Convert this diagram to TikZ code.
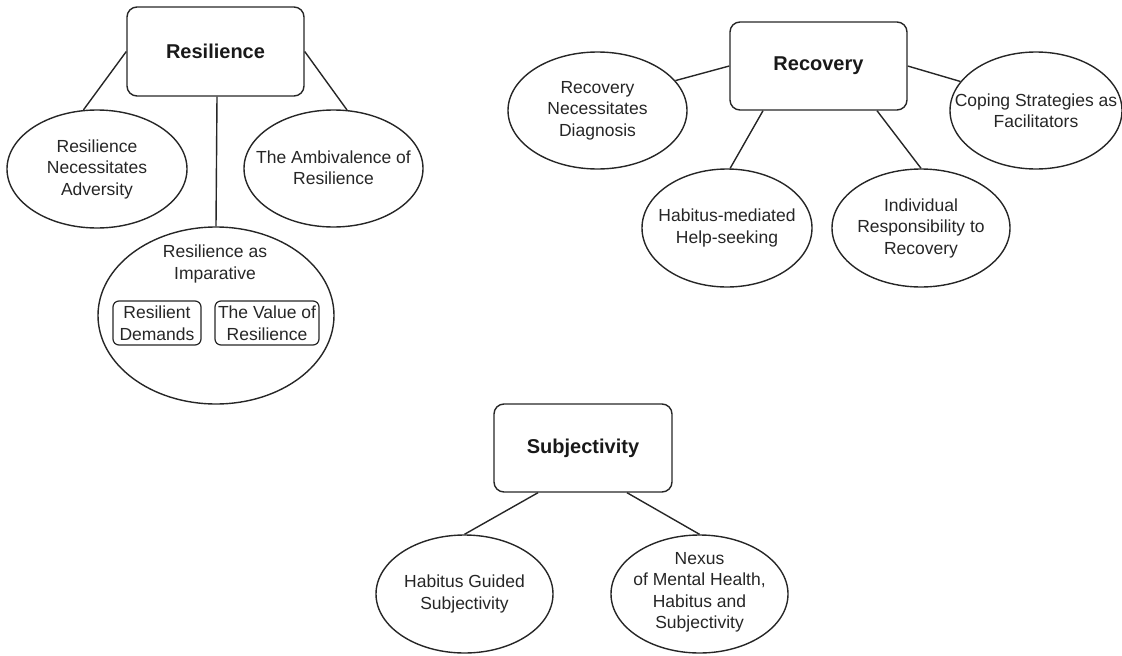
\documentclass[tikz,border=0pt]{standalone}
\usepackage{fontspec}
\setmainfont{Liberation Sans}
\usetikzlibrary{shapes.geometric,calc}
\tikzset{
  lnk/.style={draw=black!85, line width=1.4pt},
  topic/.style={draw=black!85, line width=1.4pt, rounded corners=10pt, inner sep=0pt,
    font=\fontsize{20}{24}\selectfont\bfseries, text=black!90},
  sub/.style={draw=black!85, line width=1.4pt, ellipse, inner sep=0pt},
  inbox/.style={draw=black!85, line width=1.2pt, rounded corners=6pt, inner sep=0pt, align=center,
    font=\fontsize{17.5}{21.5}\selectfont, text=black!85},
  lbl/.style={align=center, inner sep=0pt, font=\fontsize{17.5}{21.5}\selectfont, text=black!85}
}
\begin{document}
\begin{tikzpicture}[x=1pt,y=-1pt]
\useasboundingbox (0,0) rectangle (1122,656);
% Resilience cluster
\node[topic, minimum width=177pt, minimum height=89pt] (res) at (215.5,51.5) {Resilience};
\node[sub, minimum width=180pt, minimum height=118pt] (rna) at (97,169) {};
\node[lbl] (rnat) at (rna.center) {Resilience\\Necessitates\\Adversity};
\node[sub, minimum width=179pt, minimum height=117pt] (amb) at (333.5,168.5) {};
\node[lbl] (ambt) at ([yshift=1pt]amb.center) {The Ambivalence of\\Resilience};
\node[sub, minimum width=236pt, minimum height=177pt] (imp) at (216,315.5) {};
\node[lbl] (impt) at (215,264) {Resilience as\\Imparative};
\node[inbox, minimum width=88pt, minimum height=44pt] (rdem) at (157,323) {Resilient\\Demands};
\node[inbox, minimum width=104pt, minimum height=44pt] (val) at (267,323) {The Value of\\Resilience};
\draw[lnk] (res.west) -- (rna.103);
\draw[lnk] (res.east) -- (amb.77);
\draw[lnk] ([xshift=1.5pt]res.south) -- (imp.north);
% Recovery cluster
\node[topic, minimum width=177pt, minimum height=88pt] (rec) at (818.5,66) {Recovery};
\node[sub, minimum width=179pt, minimum height=117pt] (rnd) at (597.5,110.5) {};
\node[lbl] (rndt) at (rnd.center) {Recovery\\Necessitates\\Diagnosis};
\node[sub, minimum width=170pt, minimum height=118pt] (hab) at (727,228) {};
\node[lbl] (habt) at (hab.center) {Habitus-mediated\\Help-seeking};
\node[sub, minimum width=178pt, minimum height=118pt] (ind) at (921,228) {};
\node[lbl] (indt) at (ind.center) {Individual\\Responsibility to\\Recovery};
\node[sub, minimum width=172pt, minimum height=117pt] (cop) at (1036,110.5) {};
\node[lbl] (copt) at (cop.center) {Coping Strategies as\\Facilitators};
\draw[lnk] (rec.west) -- (rnd.21);
\draw[lnk] ([xshift=-55.5pt]rec.south) -- (hab.87);
\draw[lnk] ([xshift=58.5pt]rec.south) -- (ind.north);
\draw[lnk] (rec.east) -- (cop.159);
% Subjectivity cluster
\node[topic, minimum width=178pt, minimum height=88pt] (subj) at (583,448) {Subjectivity};
\node[sub, minimum width=177pt, minimum height=118pt] (hgs) at (464.5,594) {};
\node[lbl] (hgst) at (hgs.center) {Habitus Guided\\Subjectivity};
\node[sub, minimum width=177pt, minimum height=118pt] (nex) at (699.5,594) {};
\node[lbl] (next) at ([yshift=1.5pt]nex.center) {Nexus\\of Mental Health,\\Habitus and\\Subjectivity};
\draw[lnk] ([xshift=-45pt]subj.south) -- (hgs.north);
\draw[lnk] ([xshift=44pt]subj.south) -- (nex.north);
\end{tikzpicture}
\end{document}
